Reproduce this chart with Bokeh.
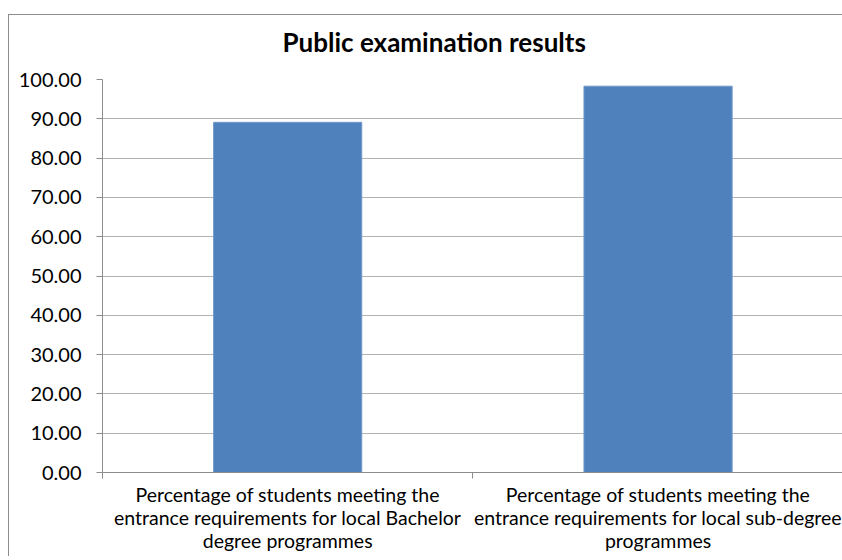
from bokeh.plotting import figure
from bokeh.models import Range1d, FixedTicker, NumeralTickFormatter
from bokeh.embed import file_html
from bokeh.resources import INLINE

title = "Public examination results"
categories = [
    "Percentage of students meeting the\nentrance requirements for local Bachelor\ndegree programmes",
    "Percentage of students meeting the\nentrance requirements for local sub-degree\nprogrammes",
]
values = [89.1, 98.3]
y_ticks = [0, 10, 20, 30, 40, 50, 60, 70, 80, 90, 100]

FONT = "Lato"
EDGE = "#8C8C8C"

positions = [i + 0.5 for i in range(len(categories))]
boundaries = [float(i) for i in range(len(categories) + 1)]
x_end = 1.998

p = figure(
    frame_width=740, frame_height=393,
    x_range=Range1d(0, x_end),
    y_range=Range1d(0, 100),
    output_backend="svg", toolbar_location=None,
    min_border_left=102, min_border_right=0, min_border_top=79, min_border_bottom=84,
    title=title,
)
# outer chart-area border (only left and top edges visible; the rest is cropped),
# painted behind a transparent canvas border
p.styles = {
    "background-color": "white",
    "background-image": f"linear-gradient({EDGE}, {EDGE}), linear-gradient({EDGE}, {EDGE})",
    "background-size": "1px 100%, 100% 1px",
    "background-position": "8px 14px, 8px 14px",
    "background-repeat": "no-repeat",
}
p.border_fill_alpha = 0
p.background_fill_color = "white"

p.vbar(x=positions, top=values, width=0.4, bottom=0,
       fill_color="#4F81BD", line_color="#6F97C9", line_width=1)

p.title.text_font = FONT
p.title.text_font_size = "26px"
p.title.text_font_style = "bold"
p.title.text_color = "#000000"
p.title.align = "left"
p.title.offset = 180
p.title.standoff = 44

p.outline_line_color = None

# y axis
p.yaxis.ticker = FixedTicker(ticks=y_ticks)
p.yaxis.formatter = NumeralTickFormatter(format="0.00")
p.yaxis.major_label_text_font = FONT
p.yaxis.major_label_text_font_size = "20px"
p.yaxis.major_label_text_color = "#000000"
p.yaxis.major_tick_out = 6
p.yaxis.major_tick_in = 0
p.yaxis.minor_tick_line_color = None
p.yaxis.axis_line_color = EDGE
p.yaxis.major_tick_line_color = EDGE
p.yaxis.major_label_standoff = 15

# x axis
p.xaxis.ticker = FixedTicker(ticks=positions, minor_ticks=boundaries)
p.xaxis.major_label_overrides = {pos: cat for pos, cat in zip(positions, categories)}
p.xaxis.major_tick_line_color = None
p.xaxis.minor_tick_line_color = EDGE
p.xaxis.minor_tick_out = 6
p.xaxis.minor_tick_in = 0
p.xaxis.axis_line_color = EDGE
p.xaxis.major_label_text_font = FONT
p.xaxis.major_label_text_font_size = "19.5px"
p.xaxis.major_label_text_color = "#000000"
p.xaxis.major_label_text_line_height = 1.0
p.xaxis.major_label_standoff = 4

p.xgrid.grid_line_color = None
p.ygrid.ticker = FixedTicker(ticks=y_ticks)
p.ygrid.bounds = (0, x_end)
p.ygrid.grid_line_color = "#B3B3B3"

open("out.html", "w").write(file_html(p, INLINE))
